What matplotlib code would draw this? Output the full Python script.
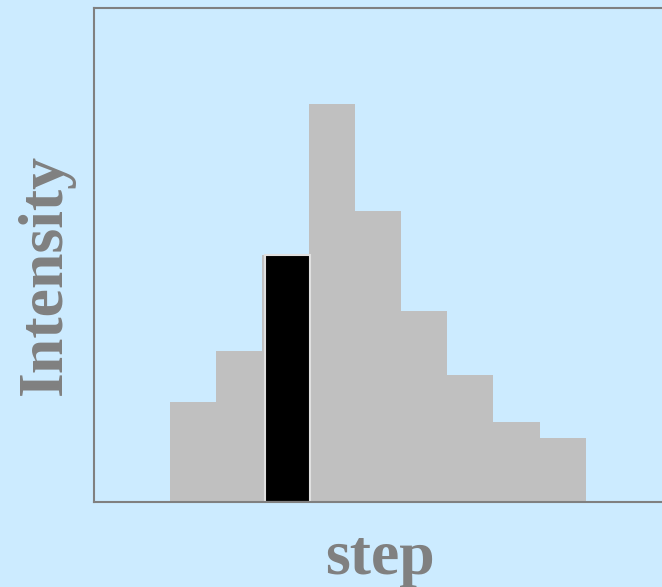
import numpy as np
import matplotlib.pyplot as plt

# bar heights (tallest = 100)
steps = [0, 1, 2, 3, 4, 5, 6, 7, 8]
intensity = [25, 38, 62, 100, 73, 48, 32, 20, 16]
highlight = 2  # index of the black bar

bg = '#CCEBFF'
fig = plt.figure(figsize=(6.62, 5.87), dpi=100, facecolor=bg)
# axes runs off the right edge like in the reference
ax = fig.add_axes([94 / 662, 1 - 502 / 587, 572 / 662, 494 / 587])
ax.set_facecolor(bg)

ax.bar(steps, intensity, width=1.0, color='#C0C0C0', linewidth=0)
ax.bar(steps[highlight] + 0.04, intensity[highlight], width=0.98, color='black',
       edgecolor='#E0E0E0', linewidth=1.5)

ax.set_xlim(-2.145, 10.235)
ax.set_ylim(0, 124.1)
ax.set_xticks([])
ax.set_yticks([])
for s in ax.spines.values():
    s.set_color('#808080')
    s.set_linewidth(1.5)

font = dict(family='Liberation Serif', weight='bold', size=46, color='#808080')
ax.set_xlabel('step', labelpad=20, **font)
ax.set_ylabel('Intensity', labelpad=14, **font)
ax.yaxis.label.set_y(0.46)

fig.savefig('out.png', dpi=100, facecolor=bg)
